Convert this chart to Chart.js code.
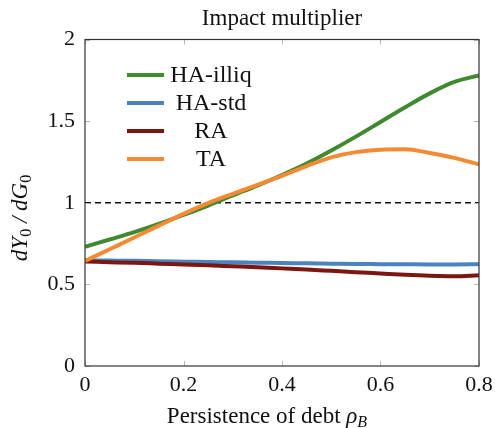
<!DOCTYPE html>
<html lang="en">
<head>
<meta charset="UTF-8">
<title>Impact multiplier</title>
<script src="https://cdn.jsdelivr.net/npm/chart.js@4.4.1/dist/chart.umd.min.js"></script>
<style>
  html, body { margin: 0; padding: 0; background: #fff; }
  canvas { display: block; }
</style>
</head>
<body>
<canvas id="chart" width="495" height="428"></canvas>
<script>
// persistence of debt (x) and impact multiplier dY0/dG0 for each model
const rhoB = [0, 0.05, 0.1, 0.15, 0.2, 0.25, 0.3, 0.35, 0.4, 0.45, 0.5, 0.55, 0.6, 0.65, 0.7, 0.75, 0.8];
const haIlliq = [0.73, 0.775, 0.82, 0.87, 0.925, 0.983, 1.045, 1.105, 1.17, 1.24, 1.32, 1.405, 1.495, 1.585, 1.67, 1.74, 1.78];
const haStd = [0.648, 0.646, 0.644, 0.641, 0.639, 0.637, 0.635, 0.633, 0.631, 0.629, 0.627, 0.625, 0.624, 0.623, 0.622, 0.622, 0.623];
const ra = [0.64, 0.636, 0.632, 0.627, 0.622, 0.617, 0.611, 0.605, 0.598, 0.591, 0.583, 0.575, 0.567, 0.559, 0.553, 0.55, 0.556];
const ta = [0.643, 0.715, 0.787, 0.86, 0.932, 0.998, 1.055, 1.11, 1.165, 1.225, 1.278, 1.31, 1.325, 1.328, 1.305, 1.275, 1.235];

// reference line at a multiplier of one
const unityX = [0, 0.8];
const unityY = [1, 1];

const xTicks = [0, 0.2, 0.4, 0.6, 0.8];
const yTicks = [0, 0.5, 1, 1.5, 2];

const SERIF = '"Liberation Serif", "DejaVu Serif", serif';

const pts = (xs, ys) => xs.map((x, i) => ({ x, y: ys[i] }));

function curve(label, ys, color, order) {
  return {
    label,
    data: pts(rhoB, ys),
    borderColor: color,
    backgroundColor: color,
    borderWidth: 4,
    pointRadius: 0,
    cubicInterpolationMode: 'monotone',
    fill: false,
    order,
  };
}

// frame plus short inward tick marks on all four sides
const frame = {
  id: 'frame',
  afterDatasetsDraw(chart) {
    const { ctx, chartArea: a, scales } = chart;
    ctx.save();
    ctx.strokeStyle = '#b8b8b8';
    ctx.lineWidth = 1;
    ctx.beginPath();
    xTicks.forEach((v) => {
      const px = Math.round(scales.x.getPixelForValue(v)) + 0.5;
      ctx.moveTo(px, a.bottom); ctx.lineTo(px, a.bottom - 5);
      ctx.moveTo(px, a.top); ctx.lineTo(px, a.top + 5);
    });
    yTicks.forEach((v) => {
      const py = Math.round(scales.y.getPixelForValue(v)) + 0.5;
      ctx.moveTo(a.left, py); ctx.lineTo(a.left + 5, py);
      ctx.moveTo(a.right, py); ctx.lineTo(a.right - 5, py);
    });
    ctx.stroke();
    ctx.strokeStyle = '#333';
    ctx.lineWidth = 1.2;
    ctx.strokeRect(a.left, a.top, a.right - a.left, a.bottom - a.top);
    ctx.restore();
  },
};

// legend box inside the plot: short line sample, label centred in its column
const insetLegend = {
  id: 'insetLegend',
  afterDraw(chart) {
    const { ctx } = chart;
    const items = chart.data.datasets.filter((d) => d.label);
    ctx.save();
    ctx.font = `24px ${SERIF}`;
    ctx.textAlign = 'center';
    ctx.textBaseline = 'middle';
    ctx.lineCap = 'butt';
    items.forEach((d, i) => {
      const y = 75 + i * 28;
      ctx.strokeStyle = d.borderColor;
      ctx.lineWidth = 4;
      ctx.beginPath();
      ctx.moveTo(127, y);
      ctx.lineTo(164, y);
      ctx.stroke();
      ctx.fillStyle = '#111';
      ctx.fillText(d.label, 211, y + 1);
    });
    ctx.restore();
  },
};

// draws a run of text pieces, some of them as subscripts
function drawPieces(ctx, pieces, cx, baseline) {
  const fontOf = (p) => `${p.italic ? 'italic ' : ''}${p.size}px ${SERIF}`;
  let total = 0;
  pieces.forEach((p) => { ctx.font = fontOf(p); p.w = ctx.measureText(p.text).width; total += p.w; });
  let x = cx - total / 2;
  ctx.textAlign = 'left';
  ctx.textBaseline = 'alphabetic';
  pieces.forEach((p) => {
    ctx.font = fontOf(p);
    ctx.fillText(p.text, x, baseline + (p.sub ? 4 : 0));
    x += p.w;
  });
}

// title over the plot area and both axis titles
const titles = {
  id: 'titles',
  afterDraw(chart) {
    const { ctx, chartArea: a } = chart;
    const mid = (a.left + a.right) / 2;
    ctx.save();
    ctx.fillStyle = '#111';
    drawPieces(ctx, [{ text: 'Impact multiplier', size: 23 }], mid, 25);
    drawPieces(ctx, [
      { text: 'Persistence of debt ', size: 23 },
      { text: 'ρ', size: 23, italic: true },
      { text: 'B', size: 16, italic: true, sub: true },
    ], 267, 423);
    ctx.translate(27, 218);
    ctx.rotate(-Math.PI / 2);
    drawPieces(ctx, [
      { text: 'dY', size: 23, italic: true },
      { text: '0', size: 16, sub: true },
      { text: ' / ', size: 23, italic: true },
      { text: 'dG', size: 23, italic: true },
      { text: '0', size: 16, sub: true },
    ], 0, 0);
    ctx.restore();
  },
};

new Chart(document.getElementById('chart'), {
  type: 'line',
  data: {
    datasets: [
      curve('HA-illiq', haIlliq, '#3f8a2f', 4),
      curve('HA-std', haStd, '#4a84c0', 3),
      curve('RA', ra, '#7b1610', 2),
      curve('TA', ta, '#f48a33', 1),
      {
        data: pts(unityX, unityY),
        borderColor: '#111',
        borderWidth: 1.4,
        borderDash: [6, 4],
        pointRadius: 0,
        fill: false,
        order: 5,
      },
    ],
  },
  options: {
    responsive: false,
    animation: false,
    layout: { padding: { left: 0, right: 16, top: 39.5, bottom: 0 } },
    plugins: {
      legend: { display: false },
      tooltip: { enabled: false },
      title: { display: false },
    },
    scales: {
      x: {
        type: 'linear',
        min: 0,
        max: 0.8,
        afterBuildTicks: (s) => { s.ticks = xTicks.map((v) => ({ value: v })); },
        afterFit: (s) => { s.height = 62; s.paddingLeft = 0; s.paddingRight = 0; },
        grid: { display: false, drawTicks: false },
        border: { display: false },
        ticks: { color: '#111', padding: 6, font: { family: SERIF, size: 22 }, maxRotation: 0, callback: (v) => `${v}` },
      },
      y: {
        type: 'linear',
        min: 0,
        max: 2,
        afterBuildTicks: (s) => { s.ticks = yTicks.map((v) => ({ value: v })); },
        afterFit: (s) => { s.width = 85; s.paddingTop = 0; s.paddingBottom = 0; },
        grid: { display: false, drawTicks: false },
        border: { display: false },
        ticks: { color: '#111', padding: 10, font: { family: SERIF, size: 22 }, callback: (v) => `${v}` },
      },
    },
  },
  plugins: [frame, insetLegend, titles],
});
</script>
</body>
</html>
